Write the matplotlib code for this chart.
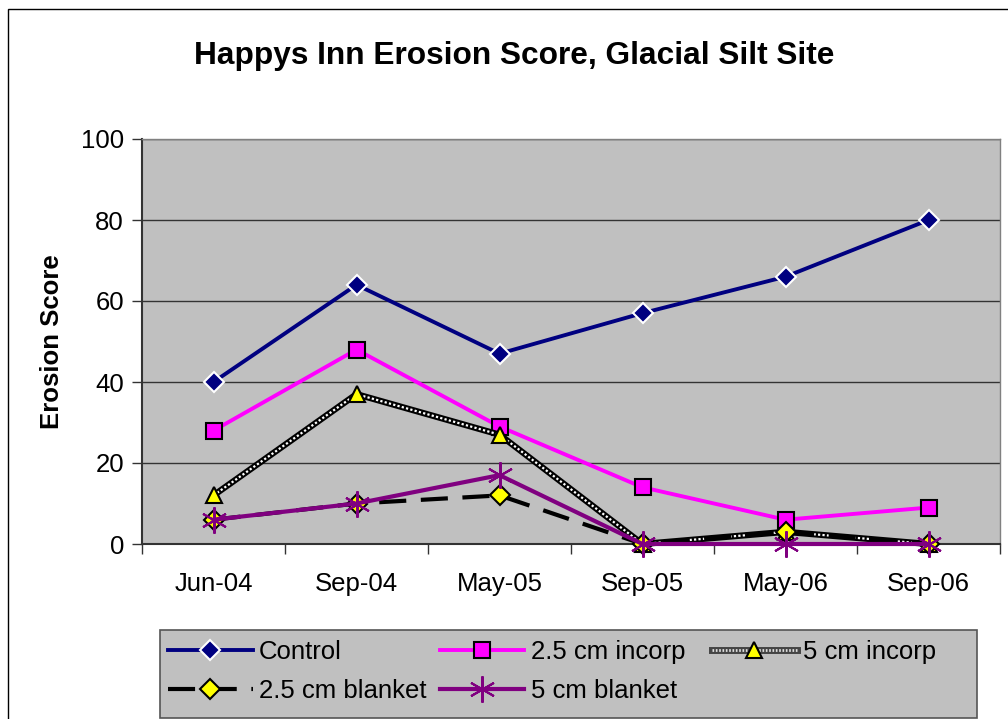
import matplotlib
matplotlib.use("Agg")
import matplotlib.pyplot as plt
from matplotlib.patches import Rectangle
from matplotlib.lines import Line2D
from matplotlib.legend_handler import HandlerTuple

plt.rcParams["font.family"] = ["Liberation Sans", "DejaVu Sans"]

categories = ["Jun-04", "Sep-04", "May-05", "Sep-05", "May-06", "Sep-06"]
control = [40, 64, 47, 57, 66, 80]
incorp_25 = [28, 48, 29, 14, 6, 9]
incorp_5 = [12, 37, 27, 0, 3, 0]
blanket_25 = [6, 10, 12, 0, 3, 0]
blanket_5 = [6, 10, 17, 0, 0, 0]
y_ticks = [0, 20, 40, 60, 80, 100]

W, H = 1008, 719
fig = plt.figure(figsize=(W / 100, H / 100), dpi=100)
fig.patch.set_facecolor("white")
fig.patches.append(Rectangle((8 / W, -0.05), 1.2, 1.05 - 9 / H, transform=fig.transFigure,
                             fill=False, edgecolor="black", linewidth=1.0))

ax = fig.add_axes([142 / W, 1 - 544 / H, (1000 - 142) / W, (544 - 139) / H])
ax.set_facecolor("#C0C0C0")

x = [i + 0.5 for i in range(len(categories))]
ms = 11

h_ctrl, = ax.plot(x, control, color="#000080", lw=2.8, marker="D", ms=ms - 1,
                  mfc="#000080", mec="white", mew=1.5, zorder=3, clip_on=False)
h_i25, = ax.plot(x, incorp_25, color="#FF00FF", lw=2.8, marker="s", ms=ms,
                 mfc="#FF00FF", mec="black", mew=1.5, zorder=3, clip_on=False)
# 5 cm incorp: black thick line with white dotted center
ax.plot(x, incorp_5, color="black", lw=4.5, zorder=3, clip_on=False)
ax.plot(x, incorp_5, color="white", lw=1.6, ls=(0, (1, 1)), zorder=3.1, clip_on=False)
ax.plot(x, incorp_5, ls="none", marker="^", ms=ms + 1, mfc="#FFFF00", mec="black",
        mew=1.5, zorder=3.2, clip_on=False)
h_b25, = ax.plot(x, blanket_25, color="black", lw=3, ls=(0, (6.5, 3.5)), marker="D", ms=ms - 1,
                 mfc="#FFFF00", mec="black", mew=1.5, zorder=3.3, clip_on=False)
h_b5, = ax.plot(x, blanket_5, color="#800080", lw=3, marker=(6, 2, 0), ms=ms + 8,
                mfc="#800080", mec="#800080", mew=1.5, zorder=3.4, clip_on=False)

ax.set_xlim(0, 6)
ax.set_ylim(0, 100)
ax.set_yticks(y_ticks)
ax.set_yticklabels([str(v) for v in y_ticks], fontsize=18.5)
ax.set_xticks(range(7))
ax.set_xticklabels([])
ax.set_xticks(x, minor=True)
ax.set_xticklabels(categories, minor=True, fontsize=18.5)
ax.tick_params(axis="x", which="minor", length=0, pad=20)
ax.tick_params(axis="x", which="major", length=7, width=1, direction="out", color="#333333")
ax.tick_params(axis="y", length=7, width=1, direction="out", color="#333333", pad=6)
ax.yaxis.grid(True, color="#333333", lw=1)
ax.set_axisbelow(True)
for side in ["top", "right"]:
    ax.spines[side].set_color("#808080")
    ax.spines[side].set_linewidth(1)
for side in ["left", "bottom"]:
    ax.spines[side].set_color("#333333")
    ax.spines[side].set_linewidth(1.5)

ax.set_ylabel("Erosion Score", fontsize=18.5, fontweight="bold", labelpad=12)
fig.text(514 / W, 1 - 56 / H, "Happys Inn Erosion Score, Glacial Silt Site",
         fontsize=22.8, fontweight="bold", ha="center", va="center")

# legend box
fig.patches.append(Rectangle((160 / W, 1 - 718 / H), (977 - 160) / W, (718 - 630) / H,
                             transform=fig.transFigure, facecolor="#C0C0C0",
                             edgecolor="#555555", linewidth=1.2, zorder=4))

common = dict(fontsize=18.5, handlelength=3.3, handletextpad=0.25, borderaxespad=0,
              borderpad=0, frameon=False, labelspacing=0.6, numpoints=1, loc="upper left")
leg1 = fig.legend([h_ctrl, h_b25, h_i25, h_b5],
                  ["Control", "2.5 cm blanket", "2.5 cm incorp", "5 cm blanket"],
                  ncol=2, columnspacing=0.5, bbox_to_anchor=(168 / W, 1 - 640 / H), **common)
leg1.set_zorder(5)
leg_i5 = (Line2D([], [], color="#444444", lw=5),
          Line2D([], [], color="#DDDDDD", lw=2, ls=(0, (0.6, 0.6))),
          Line2D([], [], ls="none", marker="^", ms=ms + 1, mfc="#FFFF00", mec="black", mew=1.5))
leg2 = fig.legend([leg_i5], ["5 cm incorp"], bbox_to_anchor=(712 / W, 1 - 640 / H),
                  handler_map={tuple: HandlerTuple(ndivide=1, pad=0)}, **common)
leg2.set_zorder(5)

fig.savefig("out.png", dpi=100, facecolor="white")
